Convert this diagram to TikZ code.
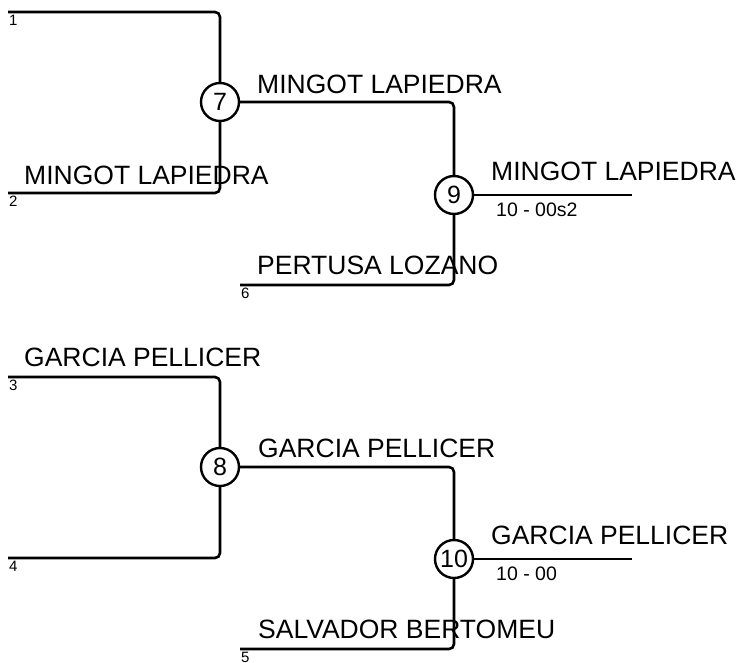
\documentclass[tikz,border=0pt]{standalone}
\usepackage{fontspec}
\setmainfont{Liberation Sans}
\begin{document}
\begin{tikzpicture}[x=1pt,y=-1pt,
  wire/.style={line width=2.6pt, rounded corners=5pt},
  match/.style={circle, draw, line width=2.4pt, minimum size=38pt, inner sep=0pt, font=\fontsize{25}{25}\selectfont},
  pname/.style={anchor=base west, inner sep=0pt, font=\fontsize{26.5}{26.5}\selectfont},
  seed/.style={anchor=north west, inner sep=0pt, font=\fontsize{15}{15}\selectfont},
  score/.style={anchor=north west, inner sep=0pt, font=\fontsize{19.5}{19.5}\selectfont}]
\useasboundingbox (0,0) rectangle (739,662);
% match circles
\node[match] (c7) at (220,102) {7};
\node[match] (c9) at (454,195) {9};
\node[match] (c8) at (220,467) {8};
\node[match] (c10) at (454,559) {10};
% line ends
\coordinate (p1) at (8,12);
\coordinate (p2) at (8,193);
\coordinate (p6) at (240,285);
\coordinate (p3) at (8,377);
\coordinate (p4) at (8,558);
\coordinate (p5) at (240,649);
\coordinate (w9) at (632,195);
\coordinate (w10) at (632,559);
% connectors
\draw[wire] (p1) -| (c7);
\draw[wire] (p2) -| (c7);
\draw[wire] (c7) -| (c9);
\draw[wire] (p6) -| (c9);
\draw[wire] (c9) -- (w9);
\draw[wire] (p3) -| (c8);
\draw[wire] (p4) -| (c8);
\draw[wire] (c8) -| (c10);
\draw[wire] (p5) -| (c10);
\draw[wire] (c10) -- (w10);
% seeds
\node[seed] (s1) at (9,15) {1};
\node[seed] (s2) at (9,196) {2};
\node[seed] (s6) at (241,288) {6};
\node[seed] (s3) at (9,380) {3};
\node[seed] (s4) at (9,561) {4};
\node[seed] (s5) at (241,652) {5};
% names
\node[pname] (n2) at (24,184) {MINGOT LAPIEDRA};
\node[pname] (n7) at (257,93) {MINGOT LAPIEDRA};
\node[pname] (n9) at (491,180) {MINGOT LAPIEDRA};
\node[pname] (n6) at (257,274) {PERTUSA LOZANO};
\node[pname] (n3) at (24,366) {GARCIA PELLICER};
\node[pname] (n8) at (258,457) {GARCIA PELLICER};
\node[pname] (n10) at (491,544) {GARCIA PELLICER};
\node[pname] (n5) at (258,638) {SALVADOR BERTOMEU};
% scores
\node[score] (r9) at (496,203) {10 - 00s2};
\node[score] (r10) at (496,567) {10 - 00};
\end{tikzpicture}
\end{document}
